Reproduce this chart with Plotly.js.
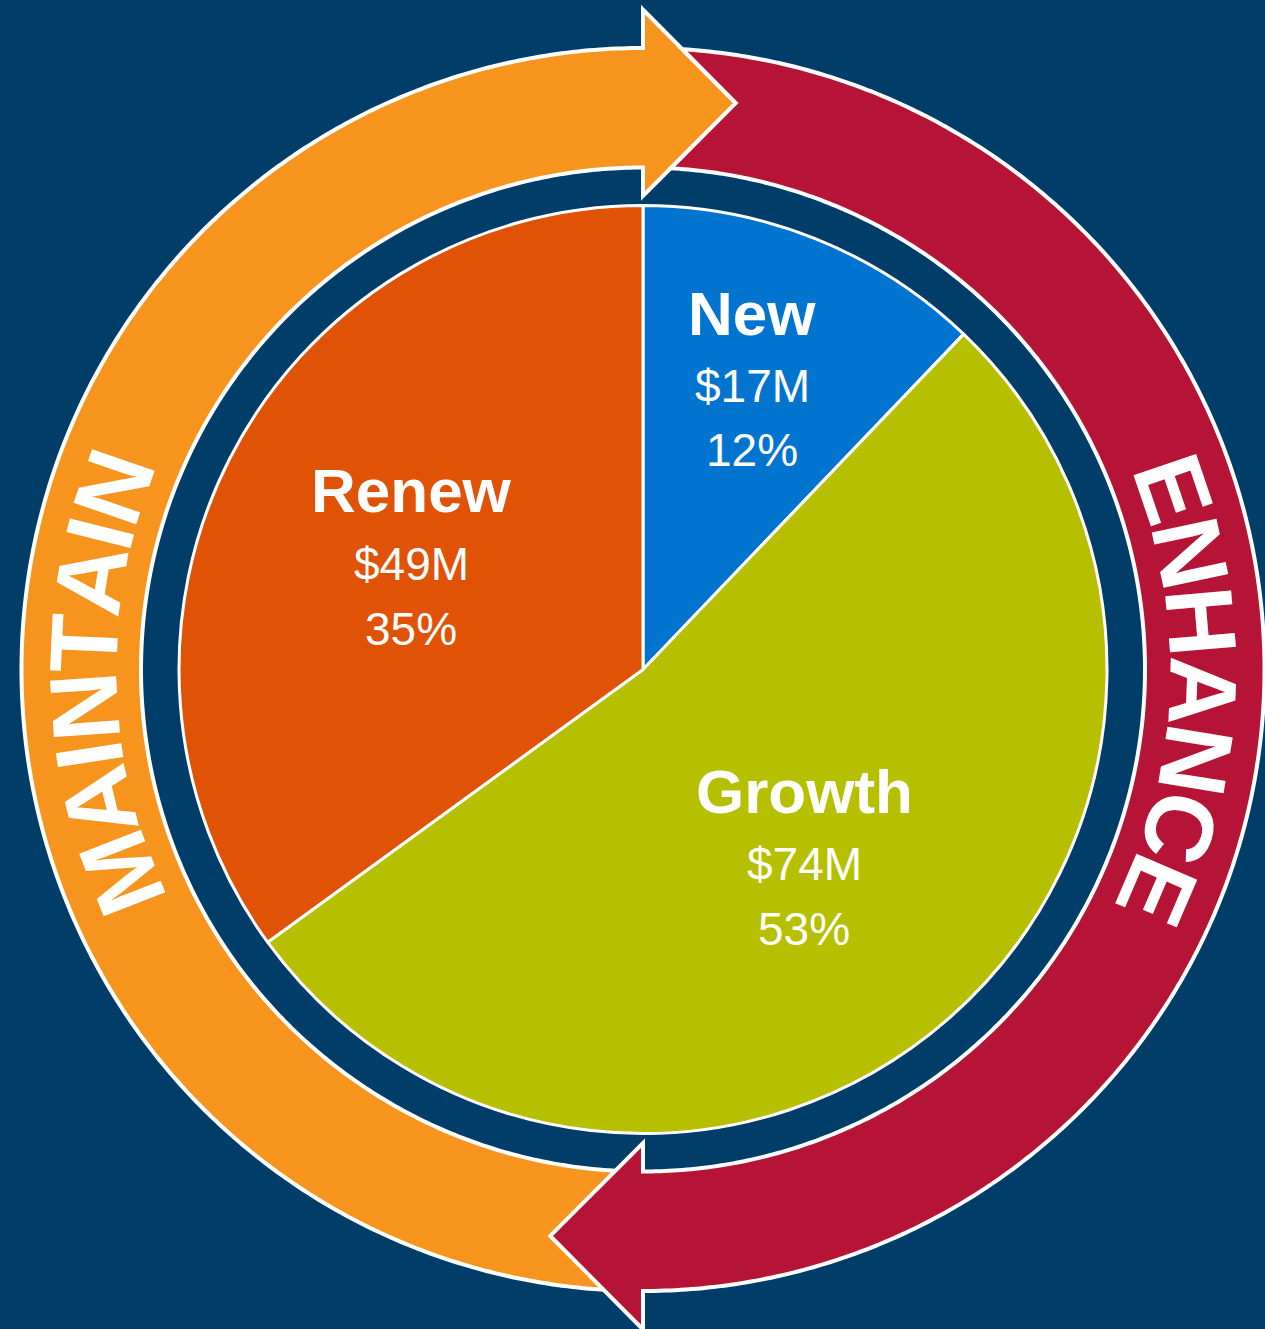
<!DOCTYPE html>
<html>
<head>
<meta charset="utf-8">
<script src="https://cdn.plot.ly/plotly-3.0.1.min.js"></script>
<style>
html, body { margin: 0; padding: 0; background: #003D69; }
#chart { width: 1265px; height: 1329px; }
</style>
</head>
<body>
<div id="chart"></div>
<script>
// ---------------- data ----------------
const categories = ['New', 'Growth', 'Renew'];
const valuesM = [17, 74, 49];
const ringLabels = ['MAINTAIN', 'ENHANCE'];

// ---------------- styles / layout constants ----------------
const sliceColors = ['#0174D0', '#B7C000', '#E05206'];
const BG = '#003D69';
const ORANGE = '#F7941E';
const RED = '#B51436';
const FONT = 'Liberation Sans, Arial, Helvetica, sans-serif';

const W = 1265, H = 1329;
const CX = 643, CY = 669.5, PIE_R = 464;
const R_IN = 502, R_OUT = 621.5;
const HEAD_IN = 473.5, HEAD_OUT = 660, TIP_R = 574, HEAD_SPAN = 9.3;
const R_TEXT = 560, RING_FONT = 96;
const ringCenters = [268.6, 92.2];

// label anchor positions (pixel x, and y-centers of the three lines)
const labelPos = {
  'New':    { x: 752, y: [313, 386, 450] },
  'Growth': { x: 804, y: [791, 864, 929] },
  'Renew':  { x: 411, y: [490, 564, 629] }
};

// ---------------- helpers ----------------
const rad = d => d * Math.PI / 180;
function pt(phi, r) { return [CX + r * Math.sin(rad(phi)), CY - r * Math.cos(rad(phi))]; }
function toPaper(p) { return [p[0] / W, 1 - p[1] / H]; }
function angleOf(p) {
  let a = Math.atan2(p[0] - CX, -(p[1] - CY)) * 180 / Math.PI;
  return a < 0 ? a + 360 : a;
}
function arcPts(a, b, r) {
  const n = Math.max(2, Math.ceil(Math.abs(b - a) / 0.5));
  const out = [];
  for (let i = 0; i <= n; i++) out.push(pt(a + (b - a) * i / n, r));
  return out;
}
function crossAt(A, B, R) {
  // point on segment A-B at distance R from centre (bisection)
  const d = p => Math.hypot(p[0] - CX, p[1] - CY) - R;
  let lo = 0, hi = 1;
  const f = t => d([A[0] + (B[0] - A[0]) * t, A[1] + (B[1] - A[1]) * t]);
  const sLo = Math.sign(f(lo));
  for (let k = 0; k < 60; k++) {
    const m = (lo + hi) / 2;
    if (Math.sign(f(m)) === sLo) lo = m; else hi = m;
  }
  const t = (lo + hi) / 2;
  return [A[0] + (B[0] - A[0]) * t, A[1] + (B[1] - A[1]) * t];
}
function pathStr(pts) {
  return pts.map((p, i) => {
    const q = toPaper(p);
    return (i === 0 ? 'M' : 'L') + q[0].toFixed(6) + ',' + q[1].toFixed(6);
  }).join(' ') + ' Z';
}

// ---------------- ring arrows ----------------
// orange: bottom -> left -> top, head at top pointing clockwise
let orangePts = [];
orangePts = orangePts.concat(arcPts(180, 360, R_OUT));
orangePts.push(pt(360, HEAD_OUT), pt(360 + HEAD_SPAN, TIP_R), pt(360, HEAD_IN));
orangePts = orangePts.concat(arcPts(360, 180, R_IN));

// red: top -> right -> bottom, notch around orange head, head at bottom
const tipTop = pt(HEAD_SPAN, TIP_R);
const pU = crossAt(pt(0, HEAD_OUT), tipTop, R_OUT);
const pL = crossAt(pt(0, HEAD_IN), tipTop, R_IN);
const phiU = angleOf(pU), phiL = angleOf(pL);
let redPts = [pU];
redPts = redPts.concat(arcPts(phiU, 180, R_OUT));
redPts.push(pt(180, HEAD_OUT), pt(180 + HEAD_SPAN, TIP_R), pt(180, HEAD_IN));
redPts = redPts.concat(arcPts(180, phiL, R_IN));
redPts.push(tipTop);

const shapes = [
  { type: 'path', xref: 'paper', yref: 'paper', layer: 'below', path: pathStr(orangePts),
    fillcolor: ORANGE, line: { color: '#FFFFFF', width: 4 } },
  { type: 'path', xref: 'paper', yref: 'paper', layer: 'below', path: pathStr(redPts),
    fillcolor: RED, line: { color: '#FFFFFF', width: 4 } }
];

// ---------------- annotations ----------------
const annotations = [];
// curved ring words (Arial Bold advance widths, em units)
const adv = { M: 0.833, A: 0.722, I: 0.278, N: 0.722, T: 0.611, E: 0.667, H: 0.722, C: 0.722 };
ringLabels.forEach((word, k) => {
  const letters = word.split('');
  const total = letters.reduce((s, c) => s + adv[c] * RING_FONT, 0);
  const startPhi = ringCenters[k] - (total / 2) / R_TEXT * 180 / Math.PI;
  let cum = 0;
  letters.forEach(c => {
    const w = adv[c] * RING_FONT;
    const phi = startPhi + (cum + w / 2) / R_TEXT * 180 / Math.PI;
    cum += w;
    const q = toPaper(pt(phi, R_TEXT));
    let ang = phi > 180 ? phi - 360 : phi;
    annotations.push({
      xref: 'paper', yref: 'paper', x: q[0], y: q[1], xanchor: 'center', yanchor: 'middle',
      showarrow: false, text: c, textangle: ang,
      font: { family: FONT, size: RING_FONT, color: '#FFFFFF', weight: 700 }
    });
  });
});

// slice labels built from the data
const total = valuesM.reduce((a, b) => a + b, 0);
categories.forEach((cat, i) => {
  const pos = labelPos[cat];
  const lines = [cat, '$' + valuesM[i] + 'M', Math.round(valuesM[i] / total * 100) + '%'];
  lines.forEach((t, j) => {
    annotations.push({
      xref: 'paper', yref: 'paper', x: pos.x / W, y: 1 - pos.y[j] / H,
      xanchor: 'center', yanchor: 'middle', showarrow: false, text: t,
      font: { family: FONT, size: j === 0 ? 62 : 46, color: '#FFFFFF', weight: j === 0 ? 700 : 400 }
    });
  });
});

// ---------------- pie ----------------
const trace = {
  type: 'pie',
  labels: categories,
  values: valuesM,
  sort: false,
  direction: 'clockwise',
  rotation: 0,
  marker: { colors: sliceColors, line: { color: '#FFFFFF', width: 3 } },
  textinfo: 'none',
  hoverinfo: 'none',
  showlegend: false,
  domain: {
    x: [(CX - PIE_R) / W, (CX + PIE_R) / W],
    y: [1 - (CY + PIE_R) / H, 1 - (CY - PIE_R) / H]
  }
};

const layout = {
  width: W, height: H,
  margin: { l: 0, r: 0, t: 0, b: 0, pad: 0 },
  paper_bgcolor: BG, plot_bgcolor: BG,
  showlegend: false,
  shapes: shapes,
  annotations: annotations
};

Plotly.newPlot('chart', [trace], layout, { displayModeBar: false, staticPlot: true });
</script>
</body>
</html>
